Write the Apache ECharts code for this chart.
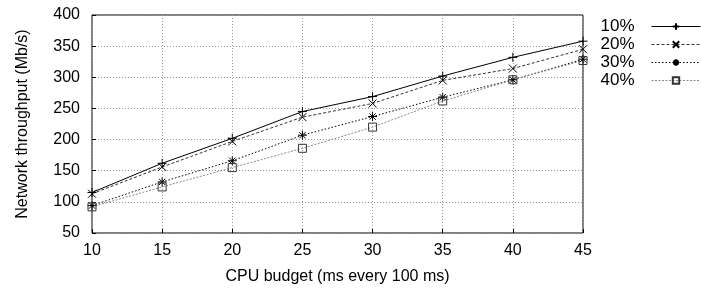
<!DOCTYPE html>
<html>
<head>
<meta charset="utf-8">
<script src="https://cdn.jsdelivr.net/npm/echarts@6/dist/echarts.min.js"></script>
<style>
  html, body { margin: 0; padding: 0; background: #fff; }
  #chart { width: 701px; height: 291px; }
</style>
</head>
<body>
<div id="chart"></div>
<script>
// CPU budget (ms every 100 ms)
const budget = [10, 15, 20, 25, 30, 35, 40, 45];
const seriesNames = ['10%', '20%', '30%', '40%'];

// throughput in Mb/s
const tp10 = [115, 162, 202, 245, 269, 302, 332, 358];
const tp20 = [113, 156, 197, 236, 258, 295, 314, 345];
const tp30 = [94, 132, 166, 207, 237, 268, 296, 329];
const tp40 = [92, 124, 155, 186, 220, 262, 296, 327];

const font = 'Liberation Sans, Arial, sans-serif';

// gnuplot-like point types
const plusSym = 'path://M0,5L10,5M5,0L5,10';
const crossSym = 'path://M0,0L10,10M10,0L0,10';
const starSym = 'path://M0,5L10,5M5,0L5,10M1.5,1.5L8.5,8.5M8.5,1.5L1.5,8.5';
const boxSym = 'path://M0,0L10,0L10,10L0,10Z';

function makeSeries(name, values, sym, color, dash, size) {
  return {
    name: name,
    type: 'line',
    data: budget.map((x, i) => [x, values[i]]),
    symbol: sym,
    symbolSize: size,
    showAllSymbol: true,
    lineStyle: { color: color, width: 1, type: dash },
    itemStyle: { color: 'none', borderColor: color === '#888' ? '#333' : '#000', borderWidth: 1 },
    emphasis: { disabled: true },
    animation: false
  };
}

const chart = echarts.init(document.getElementById('chart'));
chart.setOption({
  animation: false,
  grid: {
    left: 92, right: 118, top: 15, bottom: 58,
    show: true, borderColor: '#000', borderWidth: 1
  },
  legend: {
    orient: 'vertical',
    right: 0,
    top: 18,
    padding: 0,
    align: 'right',
    itemWidth: 49,
    itemHeight: 8,
    itemGap: 1,
    selectedMode: false,
    data: seriesNames,
    lineStyle: { width: 1 },
    textStyle: { fontFamily: font, fontSize: 17, lineHeight: 17, color: '#000', padding: [0, 12, 0, 0] }
  },
  xAxis: {
    type: 'value',
    min: 10, max: 45, interval: 5,
    name: 'CPU budget (ms every 100 ms)',
    nameLocation: 'middle',
    nameGap: 36,
    nameTextStyle: { fontFamily: font, fontSize: 16, color: '#000' },
    axisLine: { show: false },
    axisTick: { show: true, inside: true, length: 4, lineStyle: { color: '#000' } },
    axisLabel: { fontFamily: font, fontSize: 16, color: '#000', margin: 10 },
    splitLine: { show: true, lineStyle: { color: '#999', type: [1, 2], width: 1 } }
  },
  yAxis: {
    type: 'value',
    min: 50, max: 400, interval: 50,
    name: 'Network throughput (Mb/s)',
    nameLocation: 'middle',
    nameGap: 61,
    nameTextStyle: { fontFamily: font, fontSize: 16, color: '#000' },
    axisLine: { show: false },
    axisTick: { show: true, inside: true, length: 4, lineStyle: { color: '#000' } },
    axisLabel: { fontFamily: font, fontSize: 16, color: '#000', margin: 12 },
    splitLine: { show: true, lineStyle: { color: '#999', type: [1, 2], width: 1 } }
  },
  series: [
    makeSeries(seriesNames[0], tp10, plusSym, '#000', 'solid', 9),
    makeSeries(seriesNames[1], tp20, crossSym, '#333', [3, 2], 8),
    makeSeries(seriesNames[2], tp30, starSym, '#000', [1.5, 2], 9),
    makeSeries(seriesNames[3], tp40, boxSym, '#888', [2, 1.5], 8)
  ]
});
</script>
</body>
</html>
